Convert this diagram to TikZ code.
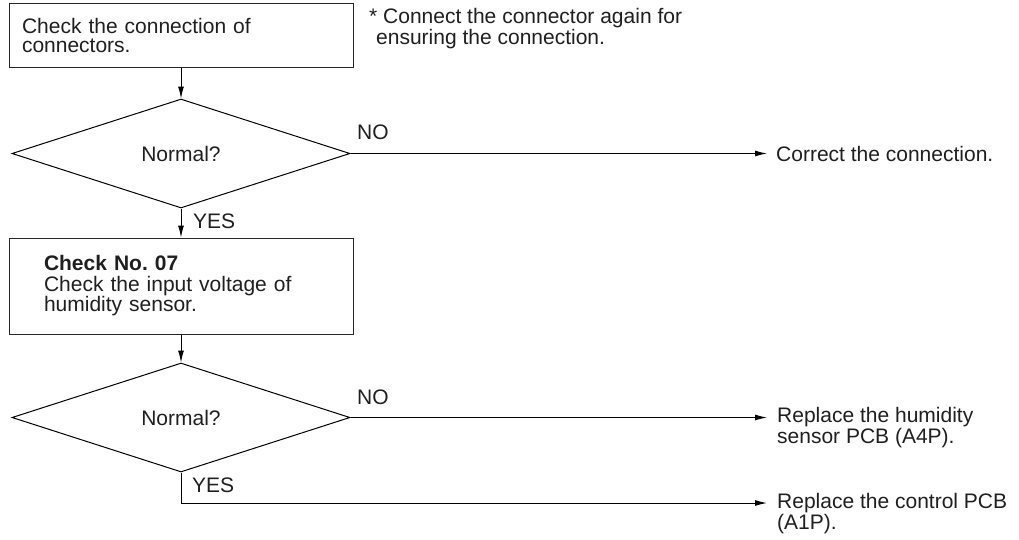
\documentclass[tikz,border=0pt]{standalone}
\usepackage{fontspec}
\setmainfont{Liberation Sans}
\usetikzlibrary{shapes.geometric,arrows.meta}
\begin{document}
\frenchspacing
\begin{tikzpicture}[x=1pt,y=-1pt,
  every node/.style={font=\fontsize{21}{19}\selectfont, text=black!88},
  stepbox/.style={draw=black!85, line width=1pt, align=left, inner ysep=0pt},
  decision/.style={draw=black, line width=1pt, shape=diamond, inner sep=0pt,
    minimum width=338pt, minimum height=109pt},
  txt/.style={anchor=base west, inner sep=0pt, align=left},
  flow/.style={draw=black, line width=1pt},
  arr/.style={flow, -{Latex[length=12pt,width=6pt]}}]
\useasboundingbox (0,0) rectangle (1019,539);

\node[stepbox, minimum width=344pt, minimum height=64pt, text width=318pt, inner xsep=13pt] (b1) at (181,35)
  {Check the connection of\\connectors.};
\node[txt] (note) at (369,44) {* Connect the connector again for\\\hspace*{7pt}ensuring the connection.};

\node[decision] (d1) at (181,153.5) {Normal?};
\node[txt] (no1) at (357,139) {NO};
\node[txt] (yes1) at (193,228) {YES};
\node[txt] (t1) at (776,161) {Correct the connection.};
\coordinate (e1) at (767,153.5);

\node[stepbox, minimum width=344pt, minimum height=96pt, text width=274pt, inner xsep=35pt,
  font=\fontsize{21}{20.5}\selectfont] (b2) at (181,286)
  {\textbf{Check No. 07}\\Check the input voltage of\\humidity sensor.};

\node[decision] (d2) at (181,417.5) {Normal?};
\node[txt] (no2) at (357,404) {NO};
\node[txt] (yes2) at (192,492) {YES};
\node[txt] (t2) at (777,443) {Replace the humidity\\sensor PCB (A4P).};
\node[txt] (t3) at (777,529) {Replace the control PCB\\(A1P).};
\coordinate (e2) at (767,417.5);
\coordinate (c3) at (181,503);
\coordinate (e3) at (767,503);

\draw[arr] (b1.south) -- (d1.north);
\draw[arr] (d1.east) -- (e1);
\draw[arr] (d1.south) -- (b2.north);
\draw[arr] (b2.south) -- (d2.north);
\draw[arr] (d2.east) -- (e2);
\draw[arr] (d2.south) -- (c3) -- (e3);
\end{tikzpicture}
\end{document}
